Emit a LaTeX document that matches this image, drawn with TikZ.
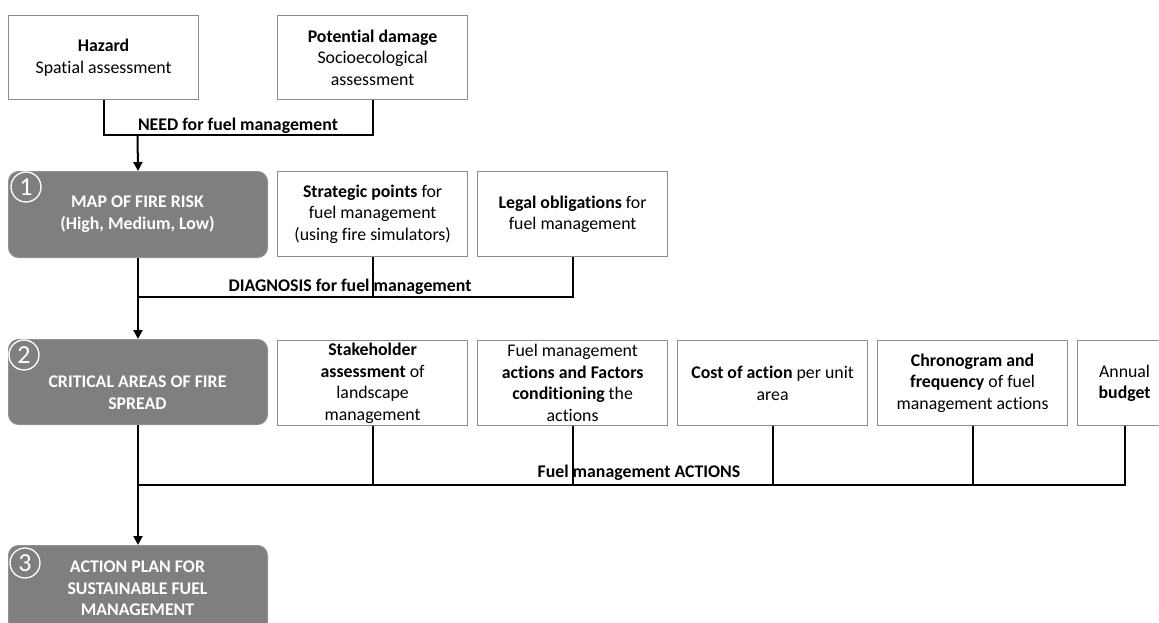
\documentclass[tikz,border=0pt]{standalone}
\usepackage{fontspec}
\setmainfont{Carlito}[Ligatures={NoCommon}]
\usetikzlibrary{arrows.meta}
\definecolor{boxgray}{HTML}{7F7F7F}
\definecolor{edgegray}{HTML}{8C8C8C}

\begin{document}
\begin{tikzpicture}[x=1pt,y=-1pt,
  txt/.style={font=\fontsize{17.8}{21.5}\selectfont, align=center, inner sep=0pt},
  wbox/.style={txt, draw=edgegray, line width=1.2pt, fill=white, anchor=north west,
    minimum height=85pt, minimum width=190pt},
  gbox/.style={fill=boxgray, draw=boxgray!85!white, line width=1pt, rounded corners=10pt,
    anchor=north west, minimum width=259pt, minimum height=86pt, inner sep=0pt},
  gtxt/.style={txt, text=white, font=\fontsize{17.8}{21.5}\selectfont\bfseries},
  num/.style={circle, draw=white, line width=1.3pt, minimum size=30pt, inner sep=0pt,
    text=white, font=\fontsize{26}{26}\selectfont},
  conn/.style={line width=2pt, draw=black},
  flow/.style={conn, -{Triangle[width=9pt,length=9pt]}},
  lbl/.style={txt, font=\fontsize{17.8}{21.5}\selectfont\bfseries},
]
\useasboundingbox (0,0) rectangle (1159,623);
\clip (0,0) rectangle (1159,623);

% --- top row: inputs to the risk map
\node[wbox, minimum height=84pt] (haz) at (8,15) {\textbf{Hazard}\\Spatial assessment};
\node[wbox, minimum height=84pt] (pd) at (277,15) {\textbf{Potential damage}\\Socioecological\\assessment};

% --- stage 1
\node[gbox] (b1) at (8,171) {};
\node[gtxt] (t1) at (137.5,214) {MAP OF FIRE RISK\\(High, Medium, Low)};
\node[num] (n1) at (26,187) {1};
\node[wbox] (sp) at (277,171) {\textbf{Strategic points} for\\fuel management\\(using fire simulators)};
\node[wbox] (leg) at (477,171) {\textbf{Legal obligations} for\\fuel management};

% --- stage 2
\node[gbox, minimum height=85pt] (b2) at (8,339) {};
\node[gtxt] (t2) at (137.5,392.5) {CRITICAL AREAS OF FIRE\\SPREAD};
\node[num] (n2) at (24,355) {2};
\node[wbox] (stk) at (277,340) {\textbf{Stakeholder}\\\textbf{assessment} of\\landscape\\management};
\node[wbox] (fma) at (477,340) {Fuel management\\\textbf{actions and Factors}\\\textbf{conditioning} the\\actions};
\node[wbox] (cost) at (677,340) {\textbf{Cost of action} per unit\\area};
\node[wbox] (chr) at (877,340) {\textbf{Chronogram and}\\\textbf{frequency} of fuel\\management actions};
\node[wbox, minimum width=94pt] (bud) at (1077,340) {Annual\\\textbf{budget}};

% --- stage 3
\node[gbox] (b3) at (8,545) {};
\node[gtxt] (t3) at (137.5,588.5) {ACTION PLAN FOR\\SUSTAINABLE FUEL\\MANAGEMENT};
\node[num] (n3) at (25,563) {3};

% --- junction points on the collecting lines
\coordinate (j1) at (137.5,135);
\coordinate (j2) at (137.5,297);
\coordinate (j3) at (137.5,485);

% NEED
\draw[conn] (haz.south) -- (haz.south |- j1) -- (pd.south |- j1) -- (pd.south);
\draw[flow] (j1) -- (b1.north);
\node[lbl] (l1) at (238,126) {NEED for fuel management};

% DIAGNOSIS
\draw[flow] (b1.south) -- (b2.north);
\draw[conn] (j2) -| (leg.south);
\draw[conn] (sp.south) -- (sp.south |- j2);
\node[lbl] (l2) at (350,287) {DIAGNOSIS for fuel management};

% ACTIONS
\draw[flow] (b2.south) -- (b3.north);
\draw[conn] (j3) -- (bud.south |- j3) -- (bud.south);
\foreach \n in {stk,fma,cost,chr} \draw[conn] (\n.south) -- (\n.south |- j3);
\node[lbl] (l3) at (639,473) {Fuel management ACTIONS};
\end{tikzpicture}
\end{document}
